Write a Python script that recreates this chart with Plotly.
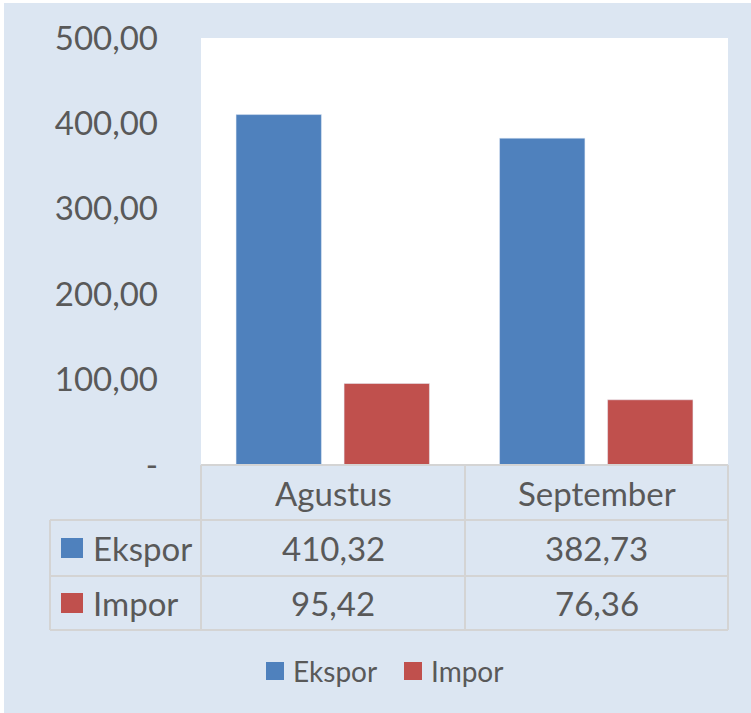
import plotly.graph_objects as go

categories = ["Agustus", "September"]
ekspor = [410.32, 382.73]
impor = [95.42, 76.36]
series_names = ["Ekspor", "Impor"]
tick_values = [0, 100, 200, 300, 400, 500]
tick_labels = ["-", "100,00", "200,00", "300,00", "400,00", "500,00"]

BLUE = "#4F81BD"
RED = "#C0504D"
BG = "#DCE6F2"
TXT = "#595959"
GRID = "#D4D4D4"
FONT = "Lato"

W, H = 751, 713
L, R, T, B = 201, 728, 38, 465
PW, PH = R - L, B - T


def px(x):
    return (x - L) / PW


def py(y):
    return (B - y) / PH


def fmt(v):
    return f"{v:,.2f}".replace(",", "X").replace(".", ",").replace("X", ".")


fig = go.Figure()
fig.add_trace(go.Bar(x=categories, y=ekspor, name=series_names[0], marker_color=BLUE))
fig.add_trace(go.Bar(x=categories, y=impor, name=series_names[1], marker_color=RED))

shapes = []
# thin white border at top and left of the chart panel
shapes.append(dict(type="rect", xref="paper", yref="paper", x0=px(-2), x1=px(4),
                   y0=py(H + 2), y1=py(-2), fillcolor="white", line_width=0, layer="below"))
shapes.append(dict(type="rect", xref="paper", yref="paper", x0=px(-2), x1=px(W + 2),
                   y0=py(3), y1=py(-2), fillcolor="white", line_width=0, layer="below"))
# white plot area
shapes.append(dict(type="rect", xref="paper", yref="paper", x0=0, x1=1, y0=0, y1=1,
                   fillcolor="white", line_width=0, layer="below"))

line = dict(color=GRID, width=2)
rows_y = [465, 520, 576, 630]
cols_x = [201, 465, 728]
shapes.append(dict(type="line", xref="paper", yref="paper", x0=px(201), x1=px(728), y0=py(465), y1=py(465), line=line))
for y in rows_y[1:]:
    shapes.append(dict(type="line", xref="paper", yref="paper", x0=px(50), x1=px(728), y0=py(y), y1=py(y), line=line))
for x in cols_x:
    shapes.append(dict(type="line", xref="paper", yref="paper", x0=px(x), x1=px(x), y0=py(465), y1=py(630), line=line))
shapes.append(dict(type="line", xref="paper", yref="paper", x0=px(50), x1=px(50), y0=py(520), y1=py(630), line=line))

annotations = []
col_centers = [(cols_x[i] + cols_x[i + 1]) / 2 for i in range(len(categories))]
tfont = dict(family=FONT, size=33, color=TXT)
for i, c in enumerate(categories):
    annotations.append(dict(xref="paper", yref="paper", x=px(col_centers[i]), y=py(493),
                            text=c, showarrow=False, xanchor="center", yanchor="middle", font=tfont))
row_centers = [548, 603]
colors = [BLUE, RED]
for r, (name, vals) in enumerate(zip(series_names, [ekspor, impor])):
    yc = row_centers[r]
    shapes.append(dict(type="rect", xref="paper", yref="paper", x0=px(61), x1=px(83),
                       y0=py(yc + 10), y1=py(yc - 10), fillcolor=colors[r], line_width=0))
    annotations.append(dict(xref="paper", yref="paper", x=px(91), y=py(yc), text=name,
                            showarrow=False, xanchor="left", yanchor="middle", font=tfont))
    for i, v in enumerate(vals):
        annotations.append(dict(xref="paper", yref="paper", x=px(col_centers[i]), y=py(yc),
                                text=fmt(v), showarrow=False, xanchor="center", yanchor="middle", font=tfont))

# bottom legend (drawn to match the reference's large keys)
leg_key_x = [266, 404]
leg_y = 671
lfont = dict(family=FONT, size=28, color=TXT)
for k, name in enumerate(series_names):
    x0 = leg_key_x[k]
    shapes.append(dict(type="rect", xref="paper", yref="paper", x0=px(x0), x1=px(x0 + 18),
                       y0=py(leg_y + 9), y1=py(leg_y - 9), fillcolor=colors[k], line_width=0))
    annotations.append(dict(xref="paper", yref="paper", x=px(x0 + 25), y=py(leg_y), text=name,
                            showarrow=False, xanchor="left", yanchor="middle", font=lfont))

fig.update_layout(
    width=W, height=H,
    margin=dict(l=L, r=W - R, t=T, b=H - B),
    paper_bgcolor=BG,
    plot_bgcolor="rgba(0,0,0,0)",
    barmode="group",
    bargap=0.18,
    bargroupgap=0.21,
    shapes=shapes,
    annotations=annotations,
    showlegend=False,
    font=dict(family=FONT, color=TXT),
)
fig.update_xaxes(showticklabels=False, showline=False, showgrid=False, zeroline=False, ticks="")
fig.update_yaxes(range=[0, 500], tickvals=tick_values, ticktext=tick_labels,
                 showgrid=False, zeroline=False, showline=False, ticks="",
                 tickfont=dict(family=FONT, size=33, color=TXT), ticklabelstandoff=42)

fig.write_html("out.html", config={"displayModeBar": False},
               post_script="document.body.style.margin='0';document.body.style.background='" + BG + "';")
